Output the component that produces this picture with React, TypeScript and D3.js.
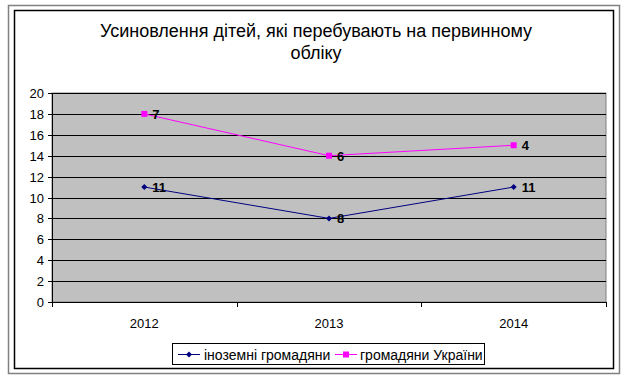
import React from "react";
import * as d3 from "d3";

const categories = ["2012", "2013", "2014"];
const foreigners = [11, 8, 11];
const ukrainians = [7, 6, 4];
const yTicks = [0, 2, 4, 6, 8, 10, 12, 14, 16, 18, 20];
const titleLines = ["Усиновлення дітей, які перебувають на первинному", "обліку"];
const seriesNames = ["іноземні громадяни", "громадяни України"];

export default function App() {
  const W = 630, H = 380;
  const left = 52, right = 606, top = 93, bottom = 302;
  const x = d3.scaleBand<string>().domain(categories).range([left, right]);
  const y = d3.scaleLinear().domain([0, 20]).range([bottom, top]);
  const cx = (c: string) => (x(c) as number) + x.bandwidth() / 2;
  const stacked = ukrainians.map((v, i) => v + foreigners[i]);
  const line = d3.line<number>().x((_, i) => cx(categories[i])).y((d) => y(d));
  const font = "Arial, 'Liberation Sans', sans-serif";
  const blue = "#000080";
  const pink = "#FF00FF";

  return (
    <svg width={W} height={H} style={{ position: "absolute", left: 0, top: 0 }} fontFamily={font}>
      <rect x={0} y={0} width={W} height={H} fill="#fff" />
      <rect x={8.5} y={5.5} width={611} height={368} fill="none" stroke="#808080" strokeWidth={1.5} />
      <rect x={14.5} y={10.5} width={599} height={358} fill="#fff" stroke="#000" strokeWidth={1.5} />
      {titleLines.map((t, i) => (
        <text key={i} x={316} y={37 + i * 22} textAnchor="middle" fontSize={18}>{t}</text>
      ))}
      <rect x={left} y={top} width={right - left} height={bottom - top} fill="#C0C0C0" stroke="#808080" strokeWidth={1} />
      {yTicks.slice(1).map((t) => (
        <line key={t} x1={left} x2={right} y1={Math.round(y(t)) + 0.5} y2={Math.round(y(t)) + 0.5} stroke="#000" />
      ))}
      <line x1={left + 0.5} x2={left + 0.5} y1={top} y2={bottom + 4} stroke="#000" />
      <line x1={left - 4} x2={right} y1={bottom + 0.5} y2={bottom + 0.5} stroke="#000" />
      {yTicks.map((t) => (
        <g key={t}>
          <line x1={left - 4} x2={left} y1={Math.round(y(t)) + 0.5} y2={Math.round(y(t)) + 0.5} stroke="#000" />
          <text x={44} y={y(t) + 5} textAnchor="end" fontSize={13}>{t}</text>
        </g>
      ))}
      {[...categories.map((c) => x(c) as number), right].map((v, i) => (
        <line key={i} x1={Math.round(v) + 0.5} x2={Math.round(v) + 0.5} y1={bottom} y2={bottom + 5} stroke="#000" />
      ))}
      {categories.map((c) => (
        <text key={c} x={cx(c)} y={328} textAnchor="middle" fontSize={13}>{c}</text>
      ))}
      <path d={line(foreigners) || ""} fill="none" stroke={blue} strokeWidth={1} />
      <path d={line(stacked) || ""} fill="none" stroke={pink} strokeWidth={1} />
      {foreigners.map((v, i) => {
        const px = cx(categories[i]), py = y(v);
        return (
          <g key={i}>
            <path d={`M${px - 3},${py} L${px},${py - 3} L${px + 3},${py} L${px},${py + 3} Z`} fill={blue} />
            <text x={px + 8} y={py + 5} fontSize={13} fontWeight="bold">{v}</text>
          </g>
        );
      })}
      {stacked.map((v, i) => {
        const px = cx(categories[i]), py = y(v);
        return (
          <g key={i}>
            <rect x={px - 3} y={py - 3} width={6} height={6} fill={pink} />
            <text x={px + 8} y={py + 5} fontSize={13} fontWeight="bold">{ukrainians[i]}</text>
          </g>
        );
      })}
      <rect x={172.5} y={343.5} width={312} height={21} fill="#fff" stroke="#000" />
      <line x1={178} x2={200} y1={354.5} y2={354.5} stroke={blue} />
      <path d="M189,351.5 L192,354.5 L189,357.5 L186,354.5 Z" fill={blue} />
      <text x={204} y={359.5} fontSize={14}>{seriesNames[0]}</text>
      <line x1={335} x2={357} y1={354.5} y2={354.5} stroke={pink} />
      <rect x={343} y={351.5} width={6} height={6} fill={pink} />
      <text x={360} y={359.5} fontSize={14}>{seriesNames[1]}</text>
    </svg>
  );
}
